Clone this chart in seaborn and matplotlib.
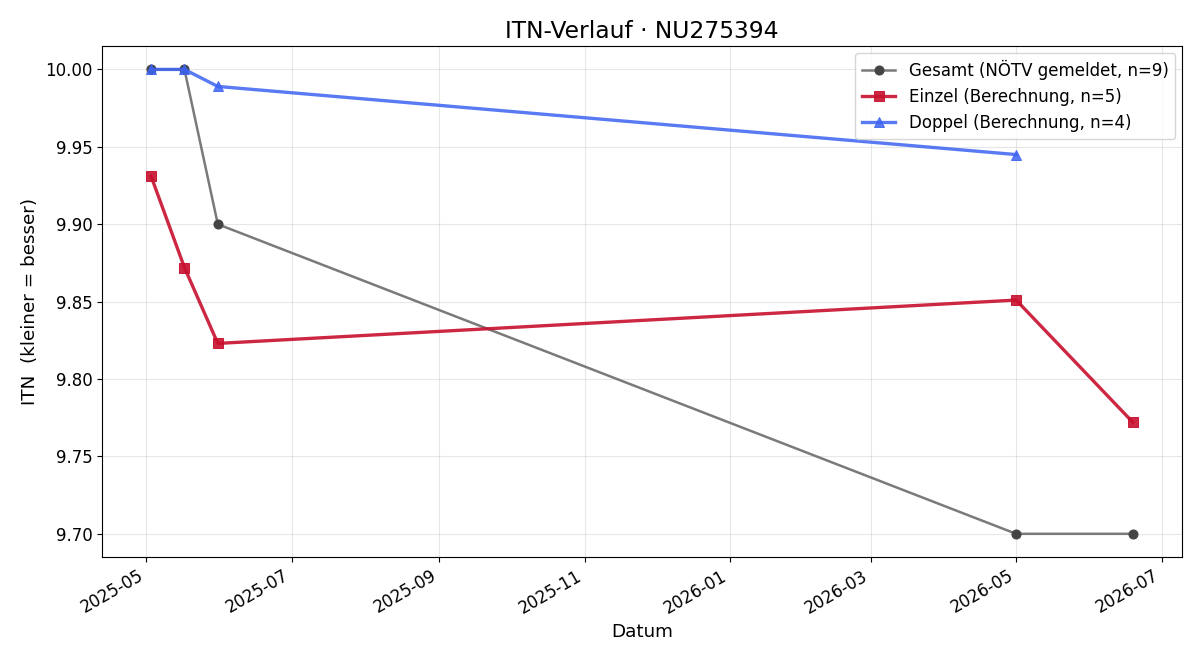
import matplotlib
matplotlib.use('Agg')
import matplotlib.pyplot as plt
import matplotlib.dates as mpldates
import matplotlib.ticker as mticker
import pandas as pd
import seaborn as sns

# data
gesamt_dates = ['2025-05-03', '2025-05-17', '2025-05-31', '2026-05-01', '2026-06-19']
gesamt_itn = [10.00, 10.00, 9.90, 9.70, 9.70]

einzel_dates = ['2025-05-03', '2025-05-17', '2025-05-31', '2026-05-01', '2026-06-19']
einzel_itn = [9.931, 9.872, 9.823, 9.851, 9.772]

doppel_dates = ['2025-05-03', '2025-05-17', '2025-05-31', '2026-05-01']
doppel_itn = [10.00, 10.00, 9.989, 9.945]

labels = ['Gesamt (NÖTV gemeldet, n=9)', 'Einzel (Berechnung, n=5)', 'Doppel (Berechnung, n=4)']

plt.rcParams['font.family'] = ['DejaVu Sans']

fig, ax = plt.subplots(figsize=(12, 6.6), dpi=100)

gdf = pd.DataFrame({'Datum': pd.to_datetime(gesamt_dates), 'ITN': gesamt_itn})
edf = pd.DataFrame({'Datum': pd.to_datetime(einzel_dates), 'ITN': einzel_itn})
ddf = pd.DataFrame({'Datum': pd.to_datetime(doppel_dates), 'ITN': doppel_itn})

sns.lineplot(data=gdf, x='Datum', y='ITN', ax=ax, color='#7a7a7a', linewidth=1.8,
             marker='o', markersize=6.5, markerfacecolor='#444444', markeredgecolor='#444444',
             label=labels[0])
sns.lineplot(data=edf, x='Datum', y='ITN', ax=ax, color='#c8102e', alpha=0.9, linewidth=2.4,
             marker='s', markersize=7.5, markeredgecolor='#c8102e', label=labels[1])
sns.lineplot(data=ddf, x='Datum', y='ITN', ax=ax, color='#3d63f2', alpha=0.85, linewidth=2.4,
             marker='^', markersize=7.5, markeredgecolor='#3d63f2', label=labels[2])

ax.set_title('ITN-Verlauf · NU275394', fontsize=16.8)
ax.set_xlabel('Datum', fontsize=13.2)
ax.set_ylabel('ITN  (kleiner = besser)', fontsize=13.2)
ax.yaxis.set_major_formatter(mticker.FormatStrFormatter('%.2f'))
ax.xaxis.set_major_locator(mpldates.MonthLocator(bymonth=[1, 3, 5, 7, 9, 11]))
ax.xaxis.set_major_formatter(mpldates.DateFormatter('%Y-%m'))
ax.grid(True, alpha=0.3)
ax.tick_params(axis='both', labelsize=12)
ax.legend(loc='upper right', fontsize=12, borderaxespad=0.4)
fig.autofmt_xdate()
fig.subplots_adjust(left=0.085, right=0.985, top=0.930, bottom=0.156)
plt.savefig('out.png')
